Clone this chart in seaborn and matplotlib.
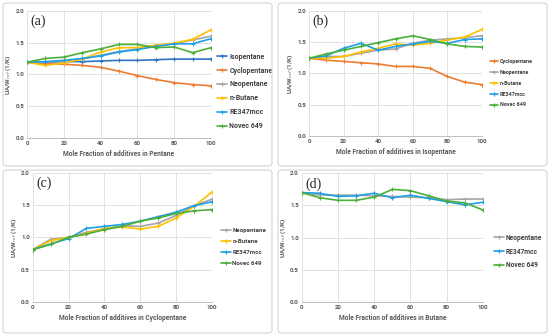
import numpy as np
import pandas as pd
import seaborn as sns
import matplotlib.pyplot as plt
from matplotlib.patches import FancyBboxPatch

x = [0, 10, 20, 30, 40, 50, 60, 70, 80, 90, 100]

# (a) additives in Pentane
a_isopentane = [1.19, 1.19, 1.20, 1.20, 1.21, 1.22, 1.22, 1.23, 1.24, 1.24, 1.24]
a_cyclopentane = [1.19, 1.17, 1.16, 1.14, 1.11, 1.05, 0.98, 0.92, 0.87, 0.84, 0.82]
a_neopentane = [1.19, 1.19, 1.21, 1.24, 1.30, 1.36, 1.40, 1.44, 1.48, 1.54, 1.60]
a_butane = [1.19, 1.14, 1.18, 1.24, 1.35, 1.42, 1.42, 1.46, 1.49, 1.55, 1.70]
a_re347 = [1.19, 1.20, 1.22, 1.25, 1.29, 1.35, 1.39, 1.44, 1.48, 1.48, 1.56]
a_novec = [1.19, 1.25, 1.27, 1.34, 1.40, 1.47, 1.47, 1.42, 1.43, 1.34, 1.42]

# (b) additives in Isopentane
b_cyclopentane = [1.24, 1.21, 1.19, 1.17, 1.15, 1.11, 1.11, 1.08, 0.95, 0.86, 0.82]
b_neopentane = [1.24, 1.27, 1.27, 1.32, 1.37, 1.39, 1.48, 1.53, 1.55, 1.57, 1.60]
b_butane = [1.24, 1.24, 1.27, 1.34, 1.40, 1.47, 1.45, 1.48, 1.53, 1.58, 1.70]
b_re347 = [1.24, 1.28, 1.40, 1.48, 1.37, 1.43, 1.47, 1.51, 1.48, 1.54, 1.55]
b_novec = [1.24, 1.31, 1.37, 1.43, 1.49, 1.55, 1.60, 1.54, 1.47, 1.43, 1.42]

# (c) additives in Cyclopentane
c_neopentane = [0.81, 0.97, 1.00, 1.08, 1.13, 1.18, 1.17, 1.22, 1.34, 1.49, 1.59]
c_butane = [0.81, 0.95, 1.00, 1.06, 1.14, 1.16, 1.13, 1.17, 1.30, 1.48, 1.70]
c_re347 = [0.81, 0.90, 0.98, 1.14, 1.17, 1.20, 1.25, 1.32, 1.39, 1.49, 1.55]
c_novec = [0.81, 0.89, 1.00, 1.05, 1.12, 1.17, 1.25, 1.30, 1.37, 1.41, 1.43]

# (d) additives in Butane
d_neopentane = [1.70, 1.66, 1.66, 1.66, 1.65, 1.64, 1.63, 1.62, 1.59, 1.60, 1.60]
d_re347 = [1.70, 1.69, 1.64, 1.65, 1.69, 1.62, 1.66, 1.61, 1.56, 1.51, 1.55]
d_novec = [1.70, 1.62, 1.58, 1.58, 1.63, 1.75, 1.73, 1.65, 1.57, 1.54, 1.43]

colors = {
    "Isopentane": "#2F73C2",
    "Cyclopentane": "#ED7D31",
    "Neopentane": "#A5A5A5",
    "n-Butane": "#FFC000",
    "RE347mcc": "#1FA0E6",
    "Novec 649": "#4CAF3A",
}

# tag, base fluid, series, axes px box, legend px anchor, frame px, legend size
panels = [
    ("(a)", "Pentane",
     {"Isopentane": a_isopentane, "Cyclopentane": a_cyclopentane,
      "Neopentane": a_neopentane, "n-Butane": a_butane,
      "RE347mcc": a_re347, "Novec 649": a_novec},
     [27, 211, 10.7, 138], (214, 50), (3, 166), 5.0),
    ("(b)", "Isopentane",
     {"Cyclopentane": b_cyclopentane, "Neopentane": b_neopentane,
      "n-Butane": b_butane, "RE347mcc": b_re347, "Novec 649": b_novec},
     [309, 482, 10.7, 136], (488, 57), (278, 166), 3.9),
    ("(c)", "Cyclopentane",
     {"Neopentane": c_neopentane, "n-Butane": c_butane,
      "RE347mcc": c_re347, "Novec 649": c_novec},
     [32.7, 212, 172.7, 302], (219, 225), (3, 333), 4.4),
    ("(d)", "Butane",
     {"Neopentane": d_neopentane, "RE347mcc": d_re347, "Novec 649": d_novec},
     [301.7, 483, 173.3, 302], (491, 231), (278, 333), 4.8),
]

W, H = 550, 335
sns.set_style("white")
plt.rcParams["font.family"] = ["Roboto", "DejaVu Sans"]
fig = plt.figure(figsize=(5.5, 3.35), dpi=100)

box_h = 163
for tag, base, series, (l, r, t, b), (lx, ly), (bx, by), fs in panels:
    # panel frame
    fig.patches.append(FancyBboxPatch(
        (bx / W, 1 - by / H), 269 / W, box_h / H,
        boxstyle="round,pad=0,rounding_size=0.008",
        transform=fig.transFigure, fill=False,
        edgecolor="#D4D4D4", linewidth=0.8))

    ax = fig.add_axes([l / W, 1 - b / H, (r - l) / W, (b - t) / H])
    for name, vals in series.items():
        df = pd.DataFrame({"x": x, "y": vals})
        sns.lineplot(data=df, x="x", y="y", ax=ax, color=colors[name],
                     marker="+", markersize=3, markeredgewidth=0.8,
                     markeredgecolor=colors[name],
                     linewidth=1.2, label=name)

    ax.set_xlim(0, 100)
    ax.set_ylim(0, 2.0)
    ax.set_xticks(range(0, 101, 20))
    ax.set_yticks(np.arange(0, 2.01, 0.5))
    ax.set_yticklabels([f"{v:.1f}" for v in np.arange(0, 2.01, 0.5)])
    ax.grid(True, color="#DDDDDD", linewidth=0.6)
    for s in ["top", "right", "left"]:
        ax.spines[s].set_visible(False)
    ax.spines["bottom"].set_color("#BFBFBF")
    ax.spines["bottom"].set_linewidth(0.7)
    ax.tick_params(axis="both", labelsize=4.4, length=0, pad=2,
                   colors="#595959")
    for lab in ax.get_xticklabels() + ax.get_yticklabels():
        lab.set_fontweight("bold")
    ax.set_xlabel(f"Mole Fraction of additives in {base}", fontsize=4.8,
                  fontweight="bold", color="#595959", labelpad=3)
    ax.set_ylabel("UA/W$_{ref}$ (1/K)", fontsize=4.6, fontweight="bold",
                  color="#595959", labelpad=1.5)
    ax.text(0.02, 0.97, tag, transform=ax.transAxes, fontsize=10,
            family="Liberation Serif", va="top", ha="left")

    leg = ax.legend(loc="upper left",
                    bbox_to_anchor=(lx / W, 1 - ly / H),
                    bbox_transform=fig.transFigure, frameon=False,
                    prop={"size": fs, "weight": "bold"},
                    handlelength=1.5, handletextpad=0.3,
                    labelspacing=4.2 / fs, borderaxespad=0)
    for txt in leg.get_texts():
        txt.set_color("#404040")

fig.savefig("out.png", dpi=100)
